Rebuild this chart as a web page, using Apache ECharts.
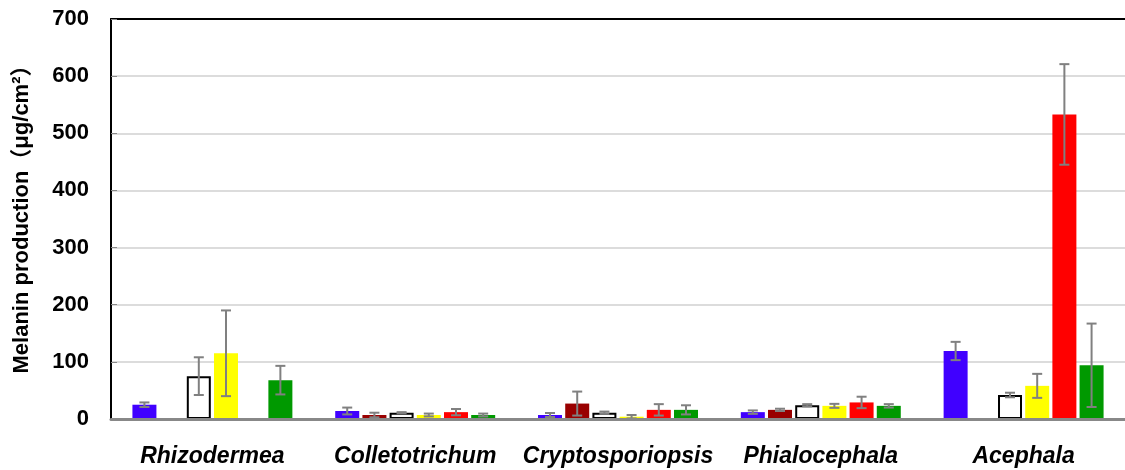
<!DOCTYPE html>
<html>
<head>
<meta charset="utf-8">
<script src="https://cdn.jsdelivr.net/npm/echarts@6/dist/echarts.min.js"></script>
<style>
  html, body { margin: 0; padding: 0; background: #fff; }
  #chart { width: 1125px; height: 470px; }
</style>
</head>
<body>
<div id="chart"></div>
<script>
// Genera along the x axis
const categories = ['Rhizodermea', 'Colletotrichum', 'Cryptosporiopsis', 'Phialocephala', 'Acephala'];

// Melanin production per treatment (µg/cm²); null = no bar
const blueVals    = [25, 14, 7, 12, 119];
const darkRedVals = [null, 7, 27, 16, null];
const whiteVals   = [75, 11, 11, 24, 42];
const yellowVals  = [115, 7, 4, 23, 58];
const redVals     = [null, 12, 16, 29, 533];
const greenVals   = [68, 7, 16, 23, 94];

// Error (±) for each bar
const blueErr    = [4, 6, 3.5, 3, 16];
const darkRedErr = [0, 4, 21, 2, 0];
const whiteErr   = [33, 1, 2, 2, 4];
const yellowErr  = [75, 2.5, 3, 3.5, 21];
const redErr     = [0, 5.5, 10, 10, 88];
const greenErr   = [25, 2.5, 8, 3, 73];

// Y axis ticks
const yMin = 0, yMax = 700, yStep = 100;

const seriesDefs = [
  { vals: blueVals,    err: blueErr,    color: '#4000FF' },
  { vals: darkRedVals, err: darkRedErr, color: '#990000' },
  { vals: whiteVals,   err: whiteErr,   color: '#FFFFFF', border: '#000000' },
  { vals: yellowVals,  err: yellowErr,  color: '#FFFF00' },
  { vals: redVals,     err: redErr,     color: '#FF0000' },
  { vals: greenVals,   err: greenErr,   color: '#009900' }
];

const BAR_W = 24;
const GAP = 0.133;
const STEP = BAR_W * (1 + GAP);
const N = seriesDefs.length;

const series = [];
seriesDefs.forEach((d, i) => {
  series.push({
    type: 'bar',
    data: d.vals,
    barWidth: BAR_W,
    barGap: (GAP * 100) + '%',
    itemStyle: {
      color: d.color,
      borderColor: d.border || d.color,
      borderWidth: d.border ? 2 : 0
    },
    z: 2
  });
});

// Error bars drawn with a custom series placed at each bar's offset
seriesDefs.forEach((d, i) => {
  const offset = (i - (N - 1) / 2) * STEP;
  const data = [];
  d.vals.forEach((v, k) => {
    if (v != null && d.err[k] > 0) data.push([k, v, d.err[k]]);
  });
  series.push({
    type: 'custom',
    data: data,
    z: 5,
    silent: true,
    renderItem: function (params, api) {
      const idx = api.value(0), v = api.value(1), e = api.value(2);
      const x = api.coord([idx, 0])[0] + offset;
      const yTop = api.coord([idx, v + e])[1];
      const yBot = api.coord([idx, Math.max(v - e, 0)])[1];
      const cap = 5;
      const style = { stroke: '#808080', lineWidth: 2 };
      return {
        type: 'group',
        children: [
          { type: 'line', shape: { x1: x, y1: yTop, x2: x, y2: yBot }, style: style },
          { type: 'line', shape: { x1: x - cap, y1: yTop, x2: x + cap, y2: yTop }, style: style },
          { type: 'line', shape: { x1: x - cap, y1: yBot, x2: x + cap, y2: yBot }, style: style }
        ]
      };
    }
  });
});

const chart = echarts.init(document.getElementById('chart'), null, { renderer: 'canvas' });
chart.setOption({
  animation: false,
  backgroundColor: '#ffffff',
  textStyle: { fontFamily: 'Liberation Sans, Arial, sans-serif' },
  grid: { left: 111, top: 19, width: 1022, height: 400, containLabel: false },
  xAxis: [
    {
      type: 'category',
      data: categories,
      axisLine: { lineStyle: { color: '#888888', width: 3 } },
      axisTick: { show: false },
      axisLabel: {
        interval: 0,
        margin: 26,
        color: '#000',
        fontSize: 23,
        fontWeight: 'bold',
        fontStyle: 'italic',
        fontFamily: 'Liberation Sans, Arial, sans-serif'
      },
      z: 6
    },
    {
      type: 'category',
      data: categories,
      position: 'top',
      axisLine: { lineStyle: { color: '#000000', width: 2 } },
      axisTick: { show: false },
      axisLabel: { show: false }
    }
  ],
  yAxis: {
    type: 'value',
    min: yMin,
    max: yMax,
    interval: yStep,
    name: 'Melanin production（μg/cm²）',
    nameLocation: 'middle',
    nameGap: 78,
    nameTextStyle: {
      color: '#000',
      fontSize: 22,
      fontWeight: 'bold',
      padding: [0, 0, 0, 10],
      fontFamily: 'Liberation Sans, Arial, "Noto Sans CJK SC", sans-serif'
    },
    axisLine: { show: true, lineStyle: { color: '#000000', width: 2 } },
    axisTick: { show: true, inside: true, length: 6, lineStyle: { color: '#888888', width: 1 } },
    axisLabel: {
      margin: 22,
      color: '#000',
      fontSize: 22,
      fontWeight: 'bold',
      fontFamily: 'Liberation Sans, Arial, sans-serif'
    },
    splitLine: { lineStyle: { color: '#DCDCDC', width: 2 } }
  },
  series: series
});
</script>
</body>
</html>
